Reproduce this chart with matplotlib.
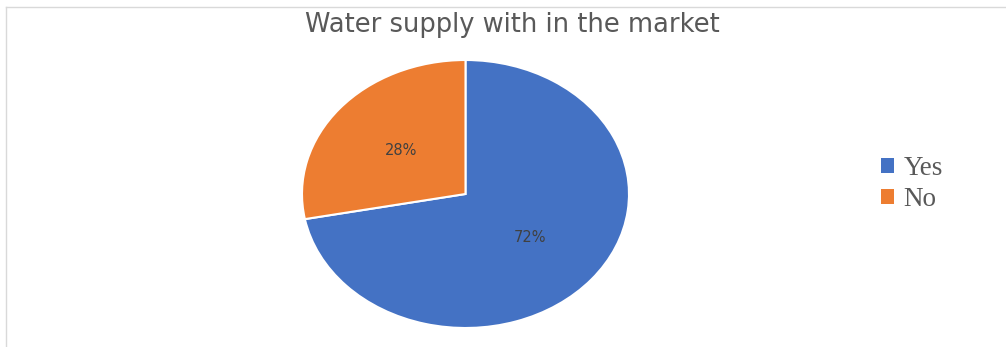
import matplotlib.pyplot as plt
from matplotlib.patches import Patch
from matplotlib.lines import Line2D

# data
labels = ['Yes', 'No']
shares = [72, 28]
colors = ['#4472C4', '#ED7D31']

W, H = 1006, 347
fig = plt.figure(figsize=(W / 100, H / 100), dpi=100)
fig.patch.set_facecolor('white')

# light frame, only top and left are visible in the source
fig.add_artist(Line2D([6 / W, 1], [1 - 7 / H] * 2, color='#D9D9D9', lw=1))
fig.add_artist(Line2D([6 / W] * 2, [0, 1 - 7 / H], color='#D9D9D9', lw=1))

# pie is stretched horizontally, so use a non-square axes with auto aspect
ax = fig.add_axes([302 / W, 19 / H, 327 / W, 268 / H])
wedges, texts, autotexts = ax.pie(
    shares, colors=colors, startangle=90, counterclock=False,
    autopct='%d%%', pctdistance=0.51,
    wedgeprops=dict(edgecolor='white', linewidth=1.5),
    textprops=dict(color='#404040', fontsize=10.5))
ax.set_aspect('auto')
ax.set_xlim(-1.0, 1.0)
ax.set_ylim(-1.0, 1.0)
ax.axis('off')

fig.text(512 / W, 1 - 25 / H, 'Water supply with in the market',
         ha='center', va='center', fontsize=18.5, color='#595959')

handles = [Patch(facecolor=c, edgecolor='none') for c in colors]
fig.legend(handles, labels, loc='center left',
           bbox_to_anchor=(867 / W, 1 - 184 / H), frameon=False,
           prop=dict(family='Liberation Serif', size=19.5),
           labelcolor='#595959', handlelength=0.5, handleheight=0.5,
           handletextpad=0.35, labelspacing=0.22, borderpad=0)

fig.savefig('out.png', dpi=100, facecolor='white')
